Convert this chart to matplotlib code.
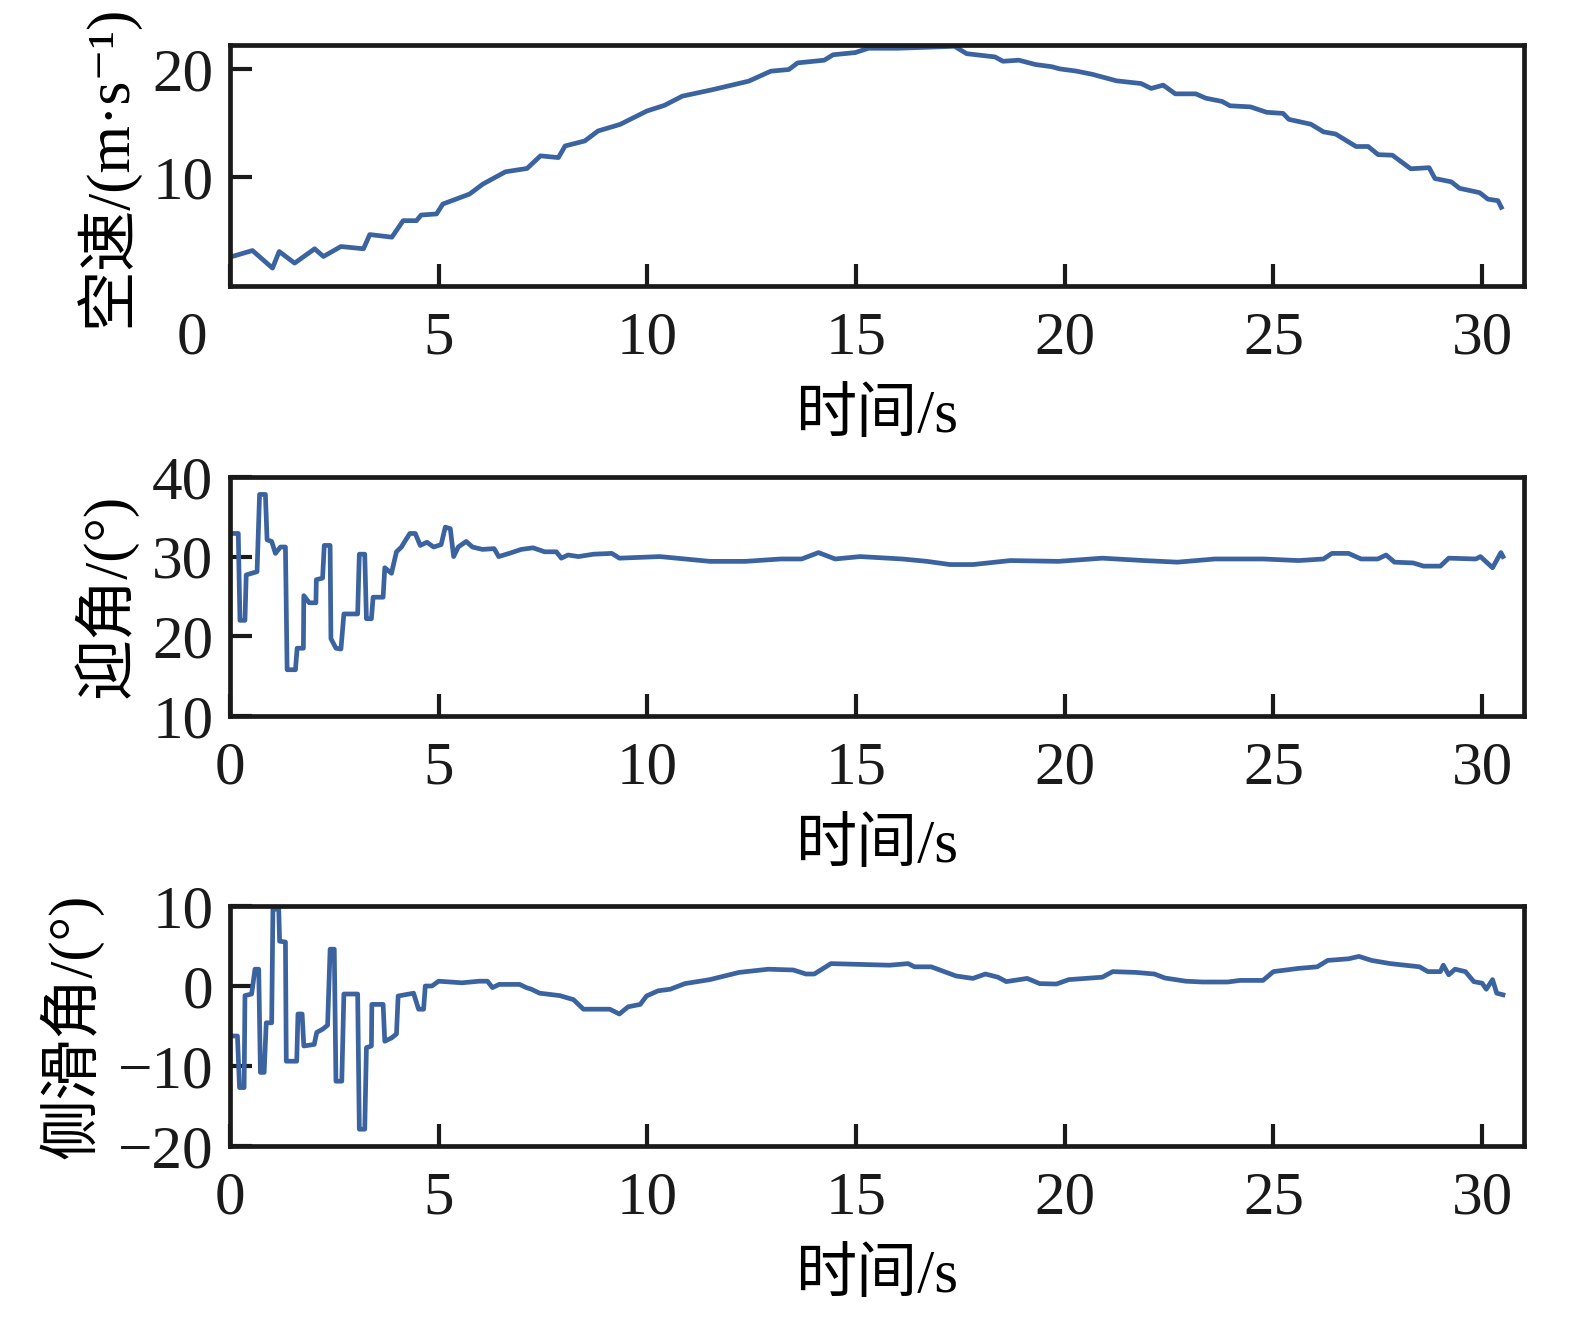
import numpy as np
import matplotlib
matplotlib.use('Agg')
import matplotlib.pyplot as plt

# SET DATA
t_speed = [0.0, 0.54, 1.02, 1.18, 1.55, 2.03, 2.24, 2.66, 3.2, 3.35, 3.88, 4.15,
           4.47, 4.58, 4.95, 5.1, 5.74, 6.06, 6.6, 7.12, 7.44, 7.87, 8.03, 8.5,
           8.82, 9.35, 9.99, 10.41, 10.84, 11.58, 12.43, 12.96, 13.39, 13.6,
           14.24, 14.45, 14.98, 15.3, 16.0, 17.36, 17.65, 18.33, 18.52, 18.9,
           19.3, 19.69, 19.88, 20.27, 20.66, 21.24, 21.83, 22.07, 22.36, 22.65,
           23.14, 23.38, 23.77, 23.96, 24.45, 24.84, 25.23, 25.37, 25.9, 26.2,
           26.49, 26.98, 27.27, 27.51, 27.85, 28.29, 28.73, 28.87, 29.26, 29.46,
           29.94, 30.14, 30.38, 30.46]
speed = [2.66, 3.27, 1.65, 3.18, 2.11, 3.43, 2.72, 3.64, 3.43, 4.74, 4.5, 6.02,
         6.02, 6.54, 6.64, 7.55, 8.47, 9.39, 10.52, 10.83, 11.99, 11.83, 12.9, 13.36,
         14.28, 14.89, 16.12, 16.64, 17.49, 18.1, 18.87, 19.79, 19.94, 20.55,
         20.8, 21.3, 21.5, 21.9, 21.9, 22.08, 21.4, 21.1, 20.7, 20.8,
         20.4, 20.2, 20.0, 19.8, 19.5, 18.9, 18.65, 18.2, 18.5, 17.7,
         17.7, 17.3, 17.0, 16.6, 16.5, 16.0, 15.9, 15.35, 14.9, 14.2,
         14.0, 12.85, 12.85, 12.1, 12.05, 10.8, 10.9, 9.9, 9.6, 9.0,
         8.6, 8.0, 7.86, 7.25]

t_alpha = [0.0, 0.2, 0.24, 0.36, 0.39, 0.65, 0.71, 0.85, 0.89, 1.0, 1.09, 1.21,
           1.33, 1.37, 1.57, 1.61, 1.76, 1.77, 1.9, 2.06, 2.07, 2.22, 2.26, 2.4,
           2.42, 2.54, 2.66, 2.73, 3.06, 3.1, 3.23, 3.27, 3.39, 3.43, 3.67, 3.71,
           3.87, 3.99, 4.11, 4.19, 4.31, 4.44, 4.56, 4.72, 4.88, 5.06, 5.16, 5.28,
           5.36, 5.47, 5.66, 5.81, 6.05, 6.33, 6.44, 6.69, 6.98, 7.26, 7.54, 7.82,
           7.94, 8.1, 8.35, 8.71, 9.15, 9.33, 10.3, 11.5, 12.35, 13.2, 13.7,
           14.1, 14.5, 15.1, 16.1, 16.7, 17.25, 17.8, 18.7, 19.85, 20.9, 21.9,
           22.7, 23.6, 24.75, 25.6, 26.2, 26.4, 26.8, 27.1, 27.5, 27.7, 27.9,
           28.35, 28.6, 29.0, 29.2, 29.85, 29.96, 30.25, 30.45, 30.5]
alpha = [32.9, 32.9, 22.0, 22.0, 27.7, 28.1, 37.8, 37.8, 32.1, 31.9, 30.4, 31.2,
         31.2, 15.8, 15.8, 18.5, 18.5, 25.1, 24.2, 24.2, 27.1, 27.3, 31.4, 31.4,
         19.7, 18.5, 18.4, 22.8, 22.8, 30.3, 30.3, 22.2, 22.2, 24.9, 24.9, 28.6,
         27.9, 30.6, 31.2, 31.9, 32.9, 32.9, 31.4, 31.8, 31.2, 31.5, 33.7, 33.5,
         30.0, 31.2, 31.9, 31.2, 30.9, 31.0, 30.0, 30.4, 30.9, 31.1, 30.6, 30.6,
         29.8, 30.2, 30.0, 30.3, 30.4, 29.8, 30.0, 29.4, 29.4, 29.7, 29.7,
         30.5, 29.7, 30.0, 29.7, 29.4, 29.0, 29.0, 29.5, 29.4, 29.8, 29.5,
         29.3, 29.7, 29.7, 29.5, 29.7, 30.4, 30.4, 29.7, 29.7, 30.2, 29.3,
         29.2, 28.8, 28.8, 29.8, 29.7, 30.0, 28.6, 30.5, 30.0]

t_beta = [0.0, 0.18, 0.23, 0.34, 0.36, 0.52, 0.6, 0.69, 0.73, 0.82, 0.87, 1.0,
          1.03, 1.17, 1.19, 1.33, 1.35, 1.6, 1.63, 1.73, 1.77, 2.02, 2.08, 2.22,
          2.34, 2.4, 2.5, 2.54, 2.68, 2.73, 3.06, 3.1, 3.23, 3.27, 3.39, 3.4,
          3.67, 3.71, 3.87, 3.99, 4.03, 4.4, 4.52, 4.64, 4.68, 4.84, 5.0, 5.56,
          5.97, 6.17, 6.29, 6.45, 6.94, 7.1, 7.22, 7.42, 7.9, 8.23, 8.47, 9.1,
          9.33, 9.54, 9.83, 9.98, 10.26, 10.55, 10.9, 11.5, 12.2, 12.9, 13.5,
          13.8, 14.0, 14.4, 15.1, 15.8, 16.25, 16.4, 16.8, 17.4, 17.8, 18.1,
          18.4, 18.6, 19.1, 19.4, 19.8, 20.1, 20.9, 21.15, 21.7, 22.15, 22.4,
          22.9, 23.3, 23.9, 24.2, 24.75, 25.0, 25.6, 26.05, 26.3, 26.8, 27.05,
          27.35, 27.8, 28.5, 28.7, 29.0, 29.07, 29.2, 29.35, 29.6, 29.8, 30.0,
          30.1, 30.25, 30.35, 30.5]
beta = [-6.25, -6.25, -12.7, -12.7, -1.2, -1.0, 2.1, 2.1, -10.8, -10.8, -4.6, -4.6,
        9.6, 9.6, 5.6, 5.5, -9.4, -9.4, -3.5, -3.5, -7.5, -7.3, -5.8, -5.4,
        -4.9, 4.6, 4.6, -11.9, -11.9, -1.0, -1.0, -17.9, -17.9, -7.7, -7.5, -2.3,
        -2.3, -6.9, -6.5, -6.0, -1.25, -0.9, -2.9, -2.9, 0.0, 0.0, 0.6, 0.4,
        0.6, 0.6, -0.2, 0.2, 0.2, -0.2, -0.4, -0.9, -1.2, -1.7, -2.9, -2.9,
        -3.5, -2.6, -2.3, -1.25, -0.6, -0.4, 0.3, 0.8, 1.7, 2.1, 2.0,
        1.5, 1.5, 2.8, 2.7, 2.6, 2.8, 2.4, 2.4, 1.25, 0.95, 1.5,
        1.1, 0.55, 0.95, 0.3, 0.25, 0.8, 1.1, 1.8, 1.7, 1.5, 1.0,
        0.6, 0.5, 0.5, 0.7, 0.7, 1.8, 2.2, 2.4, 3.2, 3.4, 3.7,
        3.2, 2.8, 2.4, 1.8, 1.8, 2.6, 1.4, 2.1, 1.8, 0.55, 0.35,
        -0.4, 0.8, -0.9, -1.1]

xticks = [0, 5, 10, 15, 20, 25, 30]
ylabels = ['空速/(m·s⁻¹)', '迎角/(°)', '侧滑角/(°)']
xlabel = '时间/s'

# STYLE
plt.rcParams['font.family'] = ['Liberation Serif', 'Noto Sans CJK SC', 'DejaVu Sans']
plt.rcParams['axes.unicode_minus'] = True
fs = 44
tick_pad = 18
line_color = '#3b63a0'
ink = '#1a1a1a'

fig = plt.figure(figsize=(15.77, 13.31), dpi=100)
left, width = 0.1458, 0.8205
ax1 = fig.add_axes([left, 0.7851, width, 0.1811])
ax2 = fig.add_axes([left, 0.4621, width, 0.1796])
ax3 = fig.add_axes([left, 0.1390, width, 0.1803])

series = [(ax1, t_speed, speed), (ax2, t_alpha, alpha), (ax3, t_beta, beta)]
for (ax, t, v), lab in zip(series, ylabels):
    ax.plot(t, v, color=line_color, lw=3.4)
    ax.set_xlim(0, 31)
    ax.set_xticks(xticks)
    ax.set_ylabel(lab, fontsize=fs, labelpad=10)
    ax.set_xlabel(xlabel, fontsize=fs, labelpad=16)
    ax.tick_params(axis='x', pad=tick_pad)
    ax.tick_params(axis='y', pad=12)
    ax.tick_params(direction='in', length=16, width=3, colors=ink,
                   labelsize=fs, top=False, right=False)
    for sp in ax.spines.values():
        sp.set_linewidth(3.4)
        sp.set_color(ink)

ax1.set_ylim(0, 22.2)
ax1.set_yticks([10, 20])
ax1.set_xticklabels([''] + [str(x) for x in xticks[1:]])
ax1.annotate('0', xy=(-0.9, 0), xycoords=('data', 'axes fraction'),
             xytext=(0, -tick_pad), textcoords='offset points',
             fontsize=fs, ha='center', va='top', color=ink)

ax2.set_ylim(10, 40)
ax2.set_yticks([10, 20, 30, 40])

ax3.set_ylim(-20, 10)
ax3.set_yticks([-20, -10, 0, 10])

fig.savefig('out.png', dpi=100)
